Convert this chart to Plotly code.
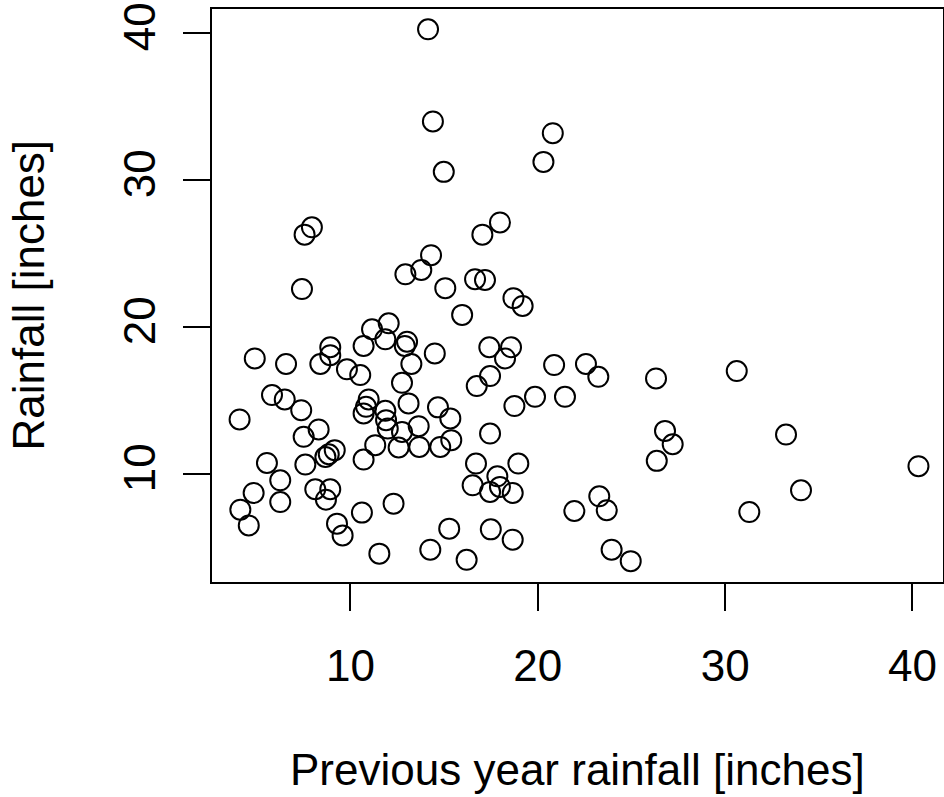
import plotly.graph_objects as go

prev_year_rain = [
    14.14, 14.40, 14.98, 7.94, 7.55, 7.41, 14.30, 13.78, 12.93, 15.06,
    20.80, 20.30, 17.98, 17.04, 16.65, 17.18, 15.96, 12.04, 11.15, 10.70,
    11.86, 13.02, 12.90, 14.50, 13.25, 8.92, 8.92, 8.39, 9.81, 10.52,
    4.89, 6.56, 12.75, 13.10, 5.81, 6.49, 7.37, 4.08, 10.97, 10.83,
    10.70, 11.86, 11.90, 11.99, 12.75, 13.64, 14.67, 15.33, 15.38, 14.79,
    13.67, 12.57, 11.32, 10.70, 8.30, 7.50, 9.16, 8.84, 8.66, 7.59,
    5.54, 6.25, 4.83, 6.25, 4.12, 4.57, 8.12, 8.92, 8.69, 9.28,
    9.58, 10.61, 12.30, 11.54, 14.26, 15.27, 18.70, 19.19, 17.41, 18.57,
    18.25, 17.45, 16.74, 20.87, 22.57, 23.23, 26.31, 18.75, 19.85, 21.45,
    17.45, 26.79, 27.20, 26.35, 16.70, 18.96, 17.84, 16.52, 17.98, 17.45,
    18.66, 23.28, 23.68, 21.95, 17.49, 18.66, 16.20, 23.94, 24.96, 30.62,
    33.25, 40.32, 34.05, 31.29,
]
rainfall = [
    40.27, 34.00, 30.57, 26.80, 26.30, 22.60, 24.90, 23.90, 23.60, 22.66,
    33.20, 31.25, 27.13, 26.30, 23.27, 23.22, 20.84, 20.27, 19.86, 18.73,
    19.18, 19.02, 18.73, 18.22, 17.50, 18.64, 18.10, 17.50, 17.14, 16.75,
    17.88, 17.50, 16.22, 14.82, 15.39, 15.09, 14.36, 13.73, 15.09, 14.59,
    14.14, 14.32, 13.68, 13.11, 12.88, 13.27, 14.55, 13.80, 12.32, 11.86,
    11.86, 11.82, 11.98, 11.00, 13.05, 12.55, 11.64, 11.36, 11.18, 10.66,
    10.77, 9.59, 8.73, 8.11, 7.59, 6.52, 8.98, 8.98, 8.27, 6.64,
    5.84, 7.39, 8.00, 4.60, 4.87, 6.30, 21.98, 21.45, 18.64, 18.64,
    17.88, 16.68, 16.00, 17.43, 17.50, 16.63, 16.52, 14.64, 15.27, 15.27,
    12.77, 12.95, 12.04, 10.91, 10.73, 10.73, 9.86, 9.25, 9.14, 8.80,
    8.73, 8.50, 7.55, 7.50, 6.25, 5.55, 4.18, 4.87, 4.09, 17.02,
    12.70, 10.55, 8.91, 7.43,
]
tick_vals = [10, 20, 30, 40]
x_title = "Previous year rainfall [inches]"
y_title = "Rainfall [inches]"

FONT = "Liberation Sans, Arial, sans-serif"
FS = 44

fig = go.Figure(go.Scatter(
    x=prev_year_rain, y=rainfall, mode="markers",
    marker=dict(symbol="circle-open", size=20, color="black",
                line=dict(width=2, color="black")),
    hoverinfo="skip",
))

axis_common = dict(
    showgrid=False, zeroline=False, showline=True, linecolor="black",
    linewidth=2, mirror=True, ticks="outside", ticklen=27, tickwidth=2,
    tickcolor="black", tickvals=tick_vals, ticktext=[str(v) for v in tick_vals],
    tickfont=dict(family=FONT, size=FS, color="black"),
)

fig.update_layout(
    width=944, height=797,
    margin=dict(l=212, r=1, t=9, b=215, autoexpand=False),
    plot_bgcolor="white", paper_bgcolor="white",
    showlegend=False,
    xaxis=dict(range=[2.607, 41.63], ticklabelstandoff=17, **axis_common),
    yaxis=dict(range=[2.67, 41.65], tickangle=-90, ticklabelstandoff=10,
               **axis_common),
    annotations=[
        dict(text=x_title, xref="paper", yref="paper", x=0.5, y=-0.328,
             xanchor="center", yanchor="middle", showarrow=False,
             font=dict(family=FONT, size=FS, color="black")),
        dict(text=y_title, xref="paper", yref="paper", x=-0.2517, y=0.5,
             xanchor="center", yanchor="middle", textangle=-90, showarrow=False,
             font=dict(family=FONT, size=FS, color="black")),
    ],
)

fig.write_html("out.html")
